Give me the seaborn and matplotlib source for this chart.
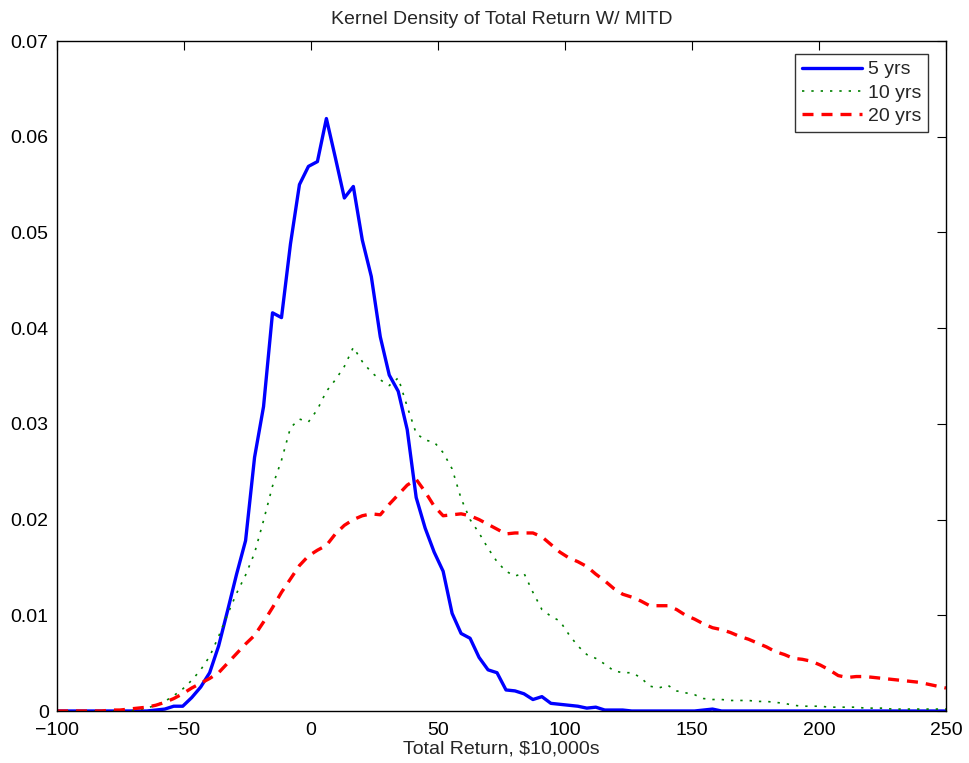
import numpy as np
import pandas as pd
import matplotlib
matplotlib.use("Agg")
import matplotlib.pyplot as plt
import seaborn as sns

# grid of evaluation points (100 points from -100 to 250)
x_grid = np.linspace(-100, 250, 100)

yrs5 = [0, 0, 0, 0, 0, 0, 0, 0, 0, 0,
        0, 0.0001, 0.0002, 0.0005, 0.0005, 0.0014, 0.0025, 0.0040, 0.0068, 0.0105,
        0.0143, 0.0178, 0.0265, 0.0318, 0.0416, 0.0411, 0.0488, 0.0550, 0.0569, 0.0574,
        0.0619, 0.0578, 0.0536, 0.0548, 0.0492, 0.0454, 0.0391, 0.0351, 0.0334, 0.0294,
        0.0223, 0.0191, 0.0166, 0.0146, 0.0102, 0.0081, 0.0076, 0.0056, 0.0043, 0.0040,
        0.0022, 0.0021, 0.0018, 0.0012, 0.0015, 0.0008, 0.0007, 0.0006, 0.0005, 0.0003,
        0.0004, 0.0001, 0.0001, 0.0001, 0, 0, 0, 0, 0, 0,
        0, 0, 0.0001, 0.0002, 0, 0, 0, 0, 0, 0,
        0, 0, 0, 0, 0, 0, 0, 0, 0, 0,
        0, 0, 0, 0, 0, 0, 0, 0, 0, 0]

yrs10 = [0, 0, 0, 0, 0, 0, 0, 0, 0, 0.0001,
         0.0003, 0.0006, 0.0010, 0.0016, 0.0023, 0.0032, 0.0043, 0.0057, 0.0078, 0.0101,
         0.0123, 0.0142, 0.0165, 0.0199, 0.0235, 0.0262, 0.0296, 0.0305, 0.0302, 0.0315,
         0.0334, 0.0346, 0.0360, 0.0380, 0.0365, 0.0354, 0.0346, 0.0340, 0.0348, 0.0318,
         0.0290, 0.0283, 0.0281, 0.0270, 0.0253, 0.0222, 0.0200, 0.0186, 0.0170, 0.0156,
         0.0146, 0.0141, 0.0144, 0.0124, 0.0106, 0.0099, 0.0094, 0.0080, 0.0068, 0.0059,
         0.0055, 0.0049, 0.0042, 0.0040, 0.0040, 0.0035, 0.0026, 0.0024, 0.0027, 0.0021,
         0.0019, 0.0017, 0.0013, 0.0012, 0.0012, 0.0011, 0.0011, 0.0011, 0.0010, 0.0010,
         0.0009, 0.0008, 0.0006, 0.0005, 0.0005, 0.0005, 0.0004, 0.0004, 0.0004, 0.0004,
         0.0003, 0.0003, 0.0003, 0.0002, 0.0002, 0.0002, 0.0002, 0.0002, 0.0002, 0.0002]

yrs20 = [0, 0, 0, 0, 0, 0, 0.0001, 0.0001, 0.0002, 0.0003,
         0.0004, 0.0006, 0.0009, 0.0013, 0.0018, 0.0024, 0.0029, 0.0034, 0.0040, 0.0050,
         0.0060, 0.0070, 0.0079, 0.0093, 0.0108, 0.0124, 0.0138, 0.0152, 0.0162, 0.0168,
         0.0173, 0.0185, 0.0194, 0.0200, 0.0204, 0.0206, 0.0205, 0.0216, 0.0226, 0.0236,
         0.0242, 0.0229, 0.0214, 0.0204, 0.0205, 0.0206, 0.0204, 0.0200, 0.0195, 0.0190,
         0.0185, 0.0186, 0.0186, 0.0186, 0.0182, 0.0174, 0.0166, 0.0160, 0.0156, 0.0151,
         0.0143, 0.0136, 0.0128, 0.0122, 0.0119, 0.0115, 0.0110, 0.0110, 0.0110, 0.0106,
         0.0100, 0.0096, 0.0091, 0.0087, 0.0085, 0.0082, 0.0078, 0.0075, 0.0071, 0.0067,
         0.0062, 0.0059, 0.0055, 0.0054, 0.0052, 0.0048, 0.0043, 0.0037, 0.0035, 0.0036,
         0.0036, 0.0035, 0.0034, 0.0033, 0.0032, 0.0031, 0.0030, 0.0028, 0.0026, 0.0024]

series_names = ["5 yrs", "10 yrs", "20 yrs"]
x_ticks = [-100, -50, 0, 50, 100, 150, 200, 250]
y_ticks = [0, 0.01, 0.02, 0.03, 0.04, 0.05, 0.06, 0.07]
y_tick_labels = ["0", "0.01", "0.02", "0.03", "0.04", "0.05", "0.06", "0.07"]

sns.set_style("white")
plt.rcParams["font.family"] = ["Liberation Sans", "DejaVu Sans"]

df = pd.DataFrame({"x": np.tile(x_grid, 3),
                   "density": np.concatenate([yrs5, yrs10, yrs20]),
                   "horizon": np.repeat(series_names, len(x_grid))})

fig = plt.figure(figsize=(9.70, 7.63), dpi=100)
ax = fig.add_axes([57 / 970, 1 - 711 / 763, (946 - 57) / 970, (711 - 41) / 763])

styles = {
    "5 yrs": dict(color=(0, 0, 1), lw=2.4, ls="-"),
    "10 yrs": dict(color=(0, 0.5, 0), lw=1.2, ls=(0, (1.4, 4.2))),
    "20 yrs": dict(color=(1, 0, 0), lw=2.4, ls=(0, (3.3, 2.4))),
}
for name in series_names:
    st = styles[name]
    sns.lineplot(data=df[df["horizon"] == name], x="x", y="density", ax=ax,
                 color=st["color"], linewidth=st["lw"], linestyle=st["ls"],
                 label=name, estimator=None, sort=False)

ax.set_xlim(-100, 250)
ax.set_ylim(0, 0.07)
ax.set_xticks(x_ticks)
ax.set_yticks(y_ticks)
ax.set_yticklabels(y_tick_labels)
ax.tick_params(direction="in", length=6.5, width=0.8, top=True, right=True,
               labelsize=14, colors="black", pad=6)
ax.tick_params(axis="x", pad=8)
for sp in ax.spines.values():
    sp.set_visible(True)
    sp.set_color("black")
    sp.set_linewidth(1.0)

ax.set_title("Kernel Density of Total Return W/ MITD", fontsize=14, pad=12)
ax.set_xlabel("Total Return, \\$10,000s", fontsize=14, labelpad=1)
ax.set_ylabel("")

leg = ax.legend(loc="upper right", fontsize=14, frameon=True, fancybox=False,
                borderpad=0.35, handlelength=3.1, handletextpad=0.3,
                labelspacing=0.3, bbox_to_anchor=(0.9798, 0.9806),
                borderaxespad=0)
leg.get_frame().set_edgecolor("black")
leg.get_frame().set_linewidth(1.0)

fig.savefig("out.png", dpi=100, facecolor="white")
